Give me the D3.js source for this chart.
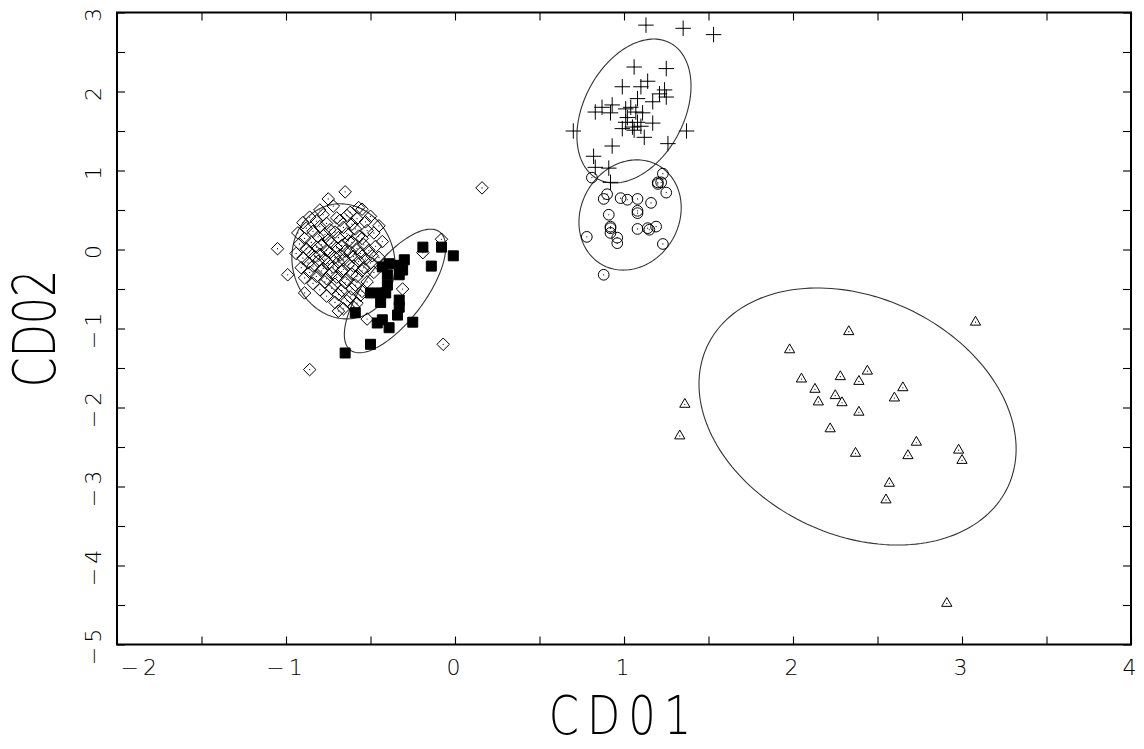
<!DOCTYPE html>
<html>
<head>
<meta charset="utf-8">
<title>CD01 vs CD02</title>
<script src="https://cdn.jsdelivr.net/npm/d3@7"></script>
<style>
  body { margin: 0; background: #fff; }
  text { font-family: "DejaVu Sans", sans-serif; font-weight: 200; fill: #000; }
</style>
</head>
<body>
<svg width="1144" height="749" id="mainSvg"></svg>
<script>
// ---- data ----
const xTicks = [-2, -1.5, -1, -0.5, 0, 0.5, 1, 1.5, 2, 2.5, 3, 3.5, 4];
const yTicks = [-5, -4.5, -4, -3.5, -3, -2.5, -2, -1.5, -1, -0.5, 0, 0.5, 1, 1.5, 2, 2.5, 3];

const diamondPts = [
  [0.16, 0.78], [-0.07, -1.20], [-0.86, -1.52], [-1.05, 0.01], [-0.99, -0.32],
  [-0.65, 0.73], [-0.75, 0.64], [-0.57, 0.53], [-0.08, 0.13], [-0.19, -0.04],
  [-0.31, -0.50], [-0.52, -0.88], [-0.69, -0.78], [-0.89, -0.55],
  [-0.80, 0.50], [-0.72, 0.55], [-0.62, 0.47], [-0.55, 0.51],
  [-0.86, 0.41], [-0.78, 0.44], [-0.70, 0.40], [-0.64, 0.43], [-0.58, 0.39], [-0.50, 0.42],
  [-0.90, 0.34], [-0.82, 0.36], [-0.76, 0.33], [-0.68, 0.37], [-0.61, 0.32], [-0.53, 0.35], [-0.45, 0.30],
  [-0.88, 0.27], [-0.80, 0.29], [-0.74, 0.25], [-0.66, 0.28], [-0.59, 0.26], [-0.52, 0.24],
  [-0.93, 0.21], [-0.84, 0.23], [-0.77, 0.19], [-0.71, 0.22], [-0.64, 0.20], [-0.57, 0.17], [-0.48, 0.21],
  [-0.89, 0.14], [-0.81, 0.16], [-0.75, 0.12], [-0.69, 0.15], [-0.63, 0.11], [-0.55, 0.14], [-0.43, 0.10],
  [-0.92, 0.07], [-0.85, 0.09], [-0.79, 0.06], [-0.73, 0.08], [-0.67, 0.05], [-0.61, 0.09], [-0.54, 0.06], [-0.47, 0.04],
  [-0.88, 0.01], [-0.82, 0.03], [-0.76, -0.01], [-0.70, 0.02], [-0.65, -0.02], [-0.58, 0.01], [-0.51, -0.01],
  [-0.94, -0.05], [-0.86, -0.03], [-0.80, -0.06], [-0.74, -0.04], [-0.68, -0.07], [-0.62, -0.03], [-0.56, -0.05], [-0.49, -0.08],
  [-0.90, -0.11], [-0.83, -0.09], [-0.77, -0.12], [-0.71, -0.10], [-0.66, -0.13], [-0.60, -0.09], [-0.53, -0.12], [-0.45, -0.10],
  [-0.87, -0.17], [-0.81, -0.15], [-0.75, -0.18], [-0.69, -0.16], [-0.63, -0.19], [-0.57, -0.15], [-0.50, -0.17],
  [-0.91, -0.23], [-0.84, -0.21], [-0.78, -0.24], [-0.72, -0.22], [-0.66, -0.25], [-0.60, -0.21], [-0.54, -0.23],
  [-0.86, -0.29], [-0.79, -0.27], [-0.73, -0.30], [-0.67, -0.28], [-0.61, -0.31], [-0.55, -0.27], [-0.48, -0.29],
  [-0.89, -0.36], [-0.82, -0.34], [-0.76, -0.37], [-0.70, -0.35], [-0.64, -0.38], [-0.58, -0.34],
  [-0.84, -0.43], [-0.77, -0.41], [-0.71, -0.44], [-0.65, -0.42], [-0.59, -0.45], [-0.52, -0.41],
  [-0.80, -0.51], [-0.73, -0.49], [-0.67, -0.52], [-0.61, -0.50], [-0.55, -0.53],
  [-0.76, -0.59], [-0.69, -0.57], [-0.62, -0.60], [-0.56, -0.58],
  [-0.71, -0.67], [-0.64, -0.65], [-0.58, -0.68],
  [-0.66, -0.75], [-0.60, -0.73]
];

const squarePts = [
  [-0.19, 0.03], [-0.08, 0.03], [-0.01, -0.08], [-0.14, -0.21], [-0.30, -0.13],
  [-0.33, -0.20], [-0.39, -0.18], [-0.33, -0.32], [-0.40, -0.32], [-0.40, -0.45],
  [-0.50, -0.55], [-0.44, -0.55], [-0.44, -0.67], [-0.33, -0.64], [-0.33, -0.73],
  [-0.34, -0.83], [-0.59, -0.80], [-0.46, -0.93], [-0.39, -0.99], [-0.25, -0.92],
  [-0.50, -1.20], [-0.65, -1.31], [-0.43, -0.89], [-0.43, -0.22], [-0.31, -0.26],
  [-0.41, -0.55]
];

const plusPts = [
  [1.13, 2.84], [1.35, 2.80], [1.53, 2.72], [1.06, 2.31], [1.25, 2.29],
  [1.14, 2.13], [1.10, 2.06], [0.99, 2.06], [1.24, 2.02], [1.21, 1.97],
  [1.25, 1.93], [1.08, 1.91], [1.17, 1.87], [0.87, 1.80], [0.93, 1.83],
  [0.83, 1.74], [0.92, 1.73], [1.01, 1.78], [1.04, 1.80], [1.07, 1.74],
  [1.11, 1.73], [1.02, 1.67], [1.08, 1.61], [1.01, 1.61], [1.17, 1.60],
  [1.05, 1.55], [1.10, 1.56], [0.99, 1.53], [1.06, 1.51], [0.70, 1.50],
  [1.37, 1.50], [1.12, 1.42], [0.93, 1.31], [1.26, 1.34], [0.82, 1.18],
  [0.83, 1.04], [0.91, 1.03], [0.92, 0.85]
];

const circlePts = [
  [0.81, 0.91], [1.23, 0.96], [1.20, 0.85], [1.20, 0.83], [1.25, 0.72],
  [0.90, 0.70], [0.88, 0.64], [0.98, 0.65], [1.02, 0.63], [1.08, 0.64],
  [1.16, 0.59], [1.08, 0.49], [1.08, 0.46], [0.91, 0.44], [0.92, 0.29],
  [1.19, 0.29], [1.14, 0.27], [1.08, 0.26], [1.15, 0.25], [0.92, 0.21],
  [0.96, 0.15], [0.78, 0.16], [0.96, 0.08], [1.23, 0.07], [0.88, -0.32],
  [0.92, 0.27], [1.22, 0.85]
];

const trianglePts = [
  [3.08, -0.92], [2.33, -1.04], [1.98, -1.27], [2.44, -1.54], [2.28, -1.61],
  [2.39, -1.67], [2.05, -1.64], [2.13, -1.77], [2.65, -1.75], [2.60, -1.88],
  [2.25, -1.85], [2.29, -1.94], [2.15, -1.93], [2.39, -2.06], [1.36, -1.96],
  [1.33, -2.36], [2.22, -2.27], [2.73, -2.44], [2.37, -2.58], [2.68, -2.61],
  [2.98, -2.54], [3.00, -2.67], [2.57, -2.96], [2.55, -3.17], [2.91, -4.48]
];

// ellipses: centre and two conjugate semi-axis vectors, in data units
const ellipses = [
  { cx: -0.66, cy: -0.15, ax: -0.089, ay: 0.709, bx: -0.292, by: -0.167 },
  { cx: -0.355, cy: -0.525, ax: 0.264, ay: 0.748, bx: -0.142, by: 0.229 },
  { cx: 1.059, cy: 1.753, ax: 0.214, ay: 0.861, bx: -0.261, by: 0.297 },
  { cx: 1.036, cy: 0.437, ax: 0.169, ay: 0.625, bx: -0.251, by: 0.310 },
  { cx: 2.382, cy: -2.114, ax: 0.890, ay: -0.888, bx: 0.297, by: 1.363 }
];

// ---- layout ----
const svg = d3.select("#mainSvg");
const margin = { top: 12.5, right: 13, bottom: 104.5, left: 117 };
const W = +svg.attr("width"), H = +svg.attr("height");
const x = d3.scaleLinear().domain([-2, 4]).range([margin.left, W - margin.right]);
const y = d3.scaleLinear().domain([-5, 3]).range([H - margin.bottom, margin.top]);
const fmt = d => Number.isInteger(d) ? (d < 0 ? "\u2212" + Math.abs(d) : String(d)) : "";

// frame
svg.append("rect")
  .attr("x", x(-2)).attr("y", y(3))
  .attr("width", x(4) - x(-2)).attr("height", y(-5) - y(3))
  .attr("fill", "none").attr("stroke", "#000").attr("stroke-width", 2);

// axes (ticks pointing inward on all four sides)
const axBottom = svg.append("g").attr("transform", `translate(0,${y(-5)})`)
  .call(d3.axisBottom(x).tickValues(xTicks).tickSize(-8).tickFormat(fmt).tickPadding(15));
const axTop = svg.append("g").attr("transform", `translate(0,${y(3)})`)
  .call(d3.axisTop(x).tickValues(xTicks).tickSize(-8).tickFormat(""));
const axLeft = svg.append("g").attr("transform", `translate(${x(-2)},0)`)
  .call(d3.axisLeft(y).tickValues(yTicks).tickSize(-8).tickFormat(fmt));
const axRight = svg.append("g").attr("transform", `translate(${x(4)},0)`)
  .call(d3.axisRight(y).tickValues(yTicks).tickSize(-8).tickFormat(""));
[axBottom, axTop, axLeft, axRight].forEach(g => {
  g.select(".domain").remove();
  g.selectAll(".tick line").attr("stroke", "#000").attr("stroke-width", 1.1);
  g.selectAll("text").attr("fill", "#000");
});
axBottom.selectAll("text")
  .style("font-family", "DejaVu Sans").style("font-weight", 200)
  .attr("font-size", 22).attr("dy", "0.71em").attr("letter-spacing", 4);
axBottom.selectAll(".tick").filter(d => d === -2).select("text")
  .attr("text-anchor", "start").attr("x", 3);
axLeft.selectAll("text")
  .style("font-family", "DejaVu Sans").style("font-weight", 200)
  .attr("font-size", 22).attr("letter-spacing", 4)
  .attr("x", null).attr("dy", null)
  .attr("text-anchor", "middle")
  .attr("transform", "translate(-24,0) rotate(-90) translate(0,8)");

// axis titles
svg.append("text")
  .attr("transform", `translate(${(x(-2) + x(4)) / 2},734) scale(0.8,1)`)
  .attr("text-anchor", "middle").attr("font-size", 54).attr("letter-spacing", 10)
  .text("CD01");
svg.append("text")
  .attr("transform", `translate(55,${(y(3) + y(-5)) / 2}) rotate(-90) scale(0.74,1)`)
  .attr("text-anchor", "middle").attr("font-size", 58)
  .text("CD02");

// ellipses
const ts = d3.range(0, 2 * Math.PI + 0.001, Math.PI / 90);
const ellLine = e => d3.line()
  .x(t => x(e.cx + e.ax * Math.cos(t) + e.bx * Math.sin(t)))
  .y(t => y(e.cy + e.ay * Math.cos(t) + e.by * Math.sin(t)))(ts);
svg.append("g").selectAll("path").data(ellipses).join("path")
  .attr("d", ellLine)
  .attr("fill", "none").attr("stroke", "#333").attr("stroke-width", 1.1);

// markers
function drawGroup(pts, type, size, filled) {
  const g = svg.append("g");
  g.selectAll("path").data(pts).join("path")
    .attr("transform", d => `translate(${x(d[0])},${y(d[1])})`)
    .attr("d", d3.symbol(type, size))
    .attr("fill", filled ? "#000" : "none")
    .attr("stroke", "#000").attr("stroke-width", 1);
  if (!filled) {
    g.selectAll("circle").data(pts).join("circle")
      .attr("cx", d => x(d[0])).attr("cy", d => y(d[1])).attr("r", 0.6)
      .attr("fill", "#000");
  }
}
drawGroup(diamondPts, d3.symbolDiamond2, 100, false);
drawGroup(squarePts, d3.symbolSquare, 100, true);
drawGroup(plusPts, d3.symbolPlus, 80, false);
drawGroup(circlePts, d3.symbolCircle, 90, false);
drawGroup(trianglePts, d3.symbolTriangle2, 75, false);
</script>
</body>
</html>
